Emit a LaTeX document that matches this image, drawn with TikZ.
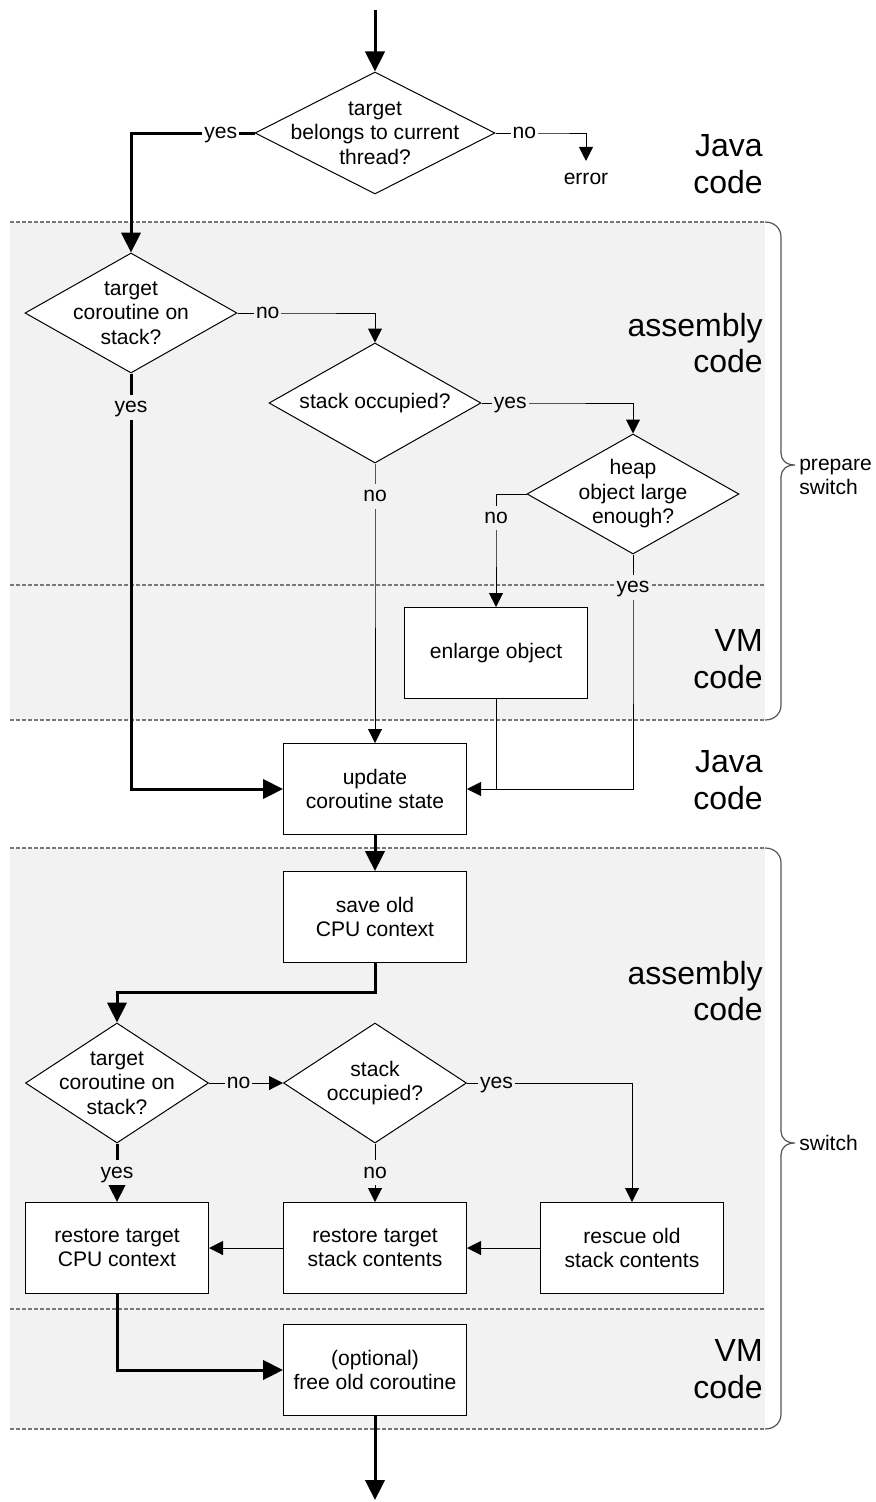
\documentclass[tikz,border=0pt]{standalone}
\usepackage{fontspec}
\setmainfont{Liberation Sans}
\usetikzlibrary{arrows.meta,shapes.geometric}
\definecolor{bandgray}{HTML}{F2F2F2}
\definecolor{dashgray}{HTML}{777777}
\definecolor{bracegray}{HTML}{555555}
\begin{document}
\begin{tikzpicture}[x=0.75pt,y=-0.75pt,
  sfont/.style={font=\fontsize{15.8pt}{18.4pt}\selectfont},
  bfont/.style={font=\fontsize{24pt}{27.5pt}\selectfont},
  box/.style={draw, rectangle, line width=0.75pt, fill=white, minimum width=137.25pt, minimum height=68.25pt, align=center, inner sep=0pt, sfont},
  dia/.style={draw, diamond, line width=0.75pt, fill=white, inner sep=0pt},
  dtext/.style={align=center, inner sep=0pt, sfont},
  lbl/.style={sfont, inner xsep=1.5pt, inner ysep=5pt, text depth=0pt},
  onw/.style={lbl, fill=white},
  ong/.style={lbl, fill=bandgray},
  thk/.style={line width=2.25pt, -{Triangle[length=15pt,width=14.5pt]}},
  thn/.style={line width=0.75pt, -{Triangle[length=10.5pt,width=10.5pt]}},
  thnn/.style={line width=0.75pt},
  band/.style={fill=bandgray, draw=none},
  sep/.style={draw=dashgray, line width=0.9pt, dash pattern=on 3pt off 1.5pt},
  brace/.style={draw=bracegray, line width=0.9pt},
  side/.style={bfont, align=right, anchor=east, inner sep=0pt},
  bracetext/.style={sfont, align=left, anchor=west, inner sep=0pt},
]
\useasboundingbox (0,0) rectangle (875,1502);

% bands
\fill[band] (10,222) rectangle (765,720);
\fill[band] (10,848) rectangle (765,1429);
\draw[sep] (10,222) -- (765,222);
\draw[sep] (10,585) -- (765,585);
\draw[sep] (10,720) -- (765,720);
\draw[sep] (10,848) -- (765,848);
\draw[sep] (10,1309) -- (765,1309);
\draw[sep] (10,1429) -- (765,1429);

% braces
\draw[brace] (765,222) .. controls (774,222) and (781,228) .. (781,237) -- (781,453)
  .. controls (781,460) and (786,465) .. (795,465)
  .. controls (786,465) and (781,470) .. (781,477) -- (781,705)
  .. controls (781,714) and (774,720) .. (765,720);
\draw[brace] (765,848) .. controls (774,848) and (781,854) .. (781,863) -- (781,1131)
  .. controls (781,1138) and (786,1143) .. (795,1143)
  .. controls (786,1143) and (781,1148) .. (781,1155) -- (781,1414)
  .. controls (781,1423) and (774,1429) .. (765,1429);

% side labels
\node[side] (j1) at (763,164) {Java\\code};
\node[side] (a1) at (763,343) {assembly\\code};
\node[side] (v1) at (763,659) {VM\\code};
\node[side] (j2) at (763,780) {Java\\code};
\node[side] (a2) at (763,991) {assembly\\code};
\node[side] (v2) at (763,1369) {VM\\code};
\node[bracetext] (ps) at (799,477) {prepare\\switch};
\node[bracetext] (sw) at (799,1143) {switch};

% nodes
\coordinate (start) at (375,10);
\coordinate (stop) at (375,1500);
\node[dia, minimum width=180pt, minimum height=91.5pt] (d1) at (375,133) {};
\node[dtext] (t1) at (d1) {target\\belongs to current\\thread?};
\node[sfont, inner sep=0pt] (err) at (586,179) {error};
\node[dia, minimum width=159pt, minimum height=90pt] (d2) at (131,313) {};
\node[dtext] (t2) at (d2) {target\\coroutine on\\stack?};
\node[dia, minimum width=159pt, minimum height=90pt] (d3) at (375,403) {};
\node[dtext] (t3) at (d3) {stack occupied?};
\node[dia, minimum width=159pt, minimum height=90pt] (d4) at (633,494) {};
\node[dtext] (t4) at (d4) {heap\\object large\\enough?};
\node[box] (enl) at (496,653) {enlarge object};
\node[box] (upd) at (375,789) {update\\coroutine state};
\node[box] (save) at (375,917) {save old\\CPU context};
\node[dia, minimum width=137.25pt, minimum height=90pt] (d5) at (117,1083) {};
\node[dtext] (t5) at (d5) {target\\coroutine on\\stack?};
\node[dia, minimum width=137.25pt, minimum height=90pt] (d6) at (375,1083) {};
\node[dtext] (t6) at (d6) {stack\\occupied?};
\node[box] (rcpu) at (117,1248) {restore target\\CPU context};
\node[box] (rstk) at (375,1248) {restore target\\stack contents};
\node[box] (res) at (632,1248) {rescue old\\stack contents};
\node[box] (free) at (375,1370) {(optional)\\free old coroutine};

% connectors
\draw[thk] (start) -- (d1.north);
\draw[thk] (d1.west) -- node[onw] {yes} (187,133) -| (d2.north);
\draw[thn] (d1.east) -- node[onw] {no} (553,133) -| ([yshift=9pt]err.north);
\draw[thn] (d2.east) -- node[ong] {no} (298,313) -| (d3.north);
\draw[thk] (d2.south) -- node[ong] {yes} (131,441) |- (upd.west);
\draw[thn] (d3.east) -- node[ong] {yes} (539,403) -| (d4.north);
\draw[thn] (d3.south) -- node[ong] {no} (375,529) -- (upd.north);
\draw[thn] (d4.west) -- (496,494) -- node[ong] {no} (496,542) -- (enl.north);
\draw[thnn] (enl.south) -- (enl.south |- upd.east);
\draw[thn] (d4.south) -- node[ong] {yes} (633,620) |- (upd.east);
\draw[thk] (upd.south) -- (save.north);
\draw[thk] (save.south) -- (375,992) -| (d5.north);
\draw[thn] (d5.east) -- node[ong] {no} (268,1083) -- (d6.west);
\draw[thn] (d6.east) -- node[ong] {yes} (526,1083) -| (res.north);
\draw[thk] (d5.south) -- node[ong] {yes} (rcpu.north);
\draw[thn] (d6.south) -- node[ong] {no} (rstk.north);
\draw[thn] (res.west) -- (rstk.east);
\draw[thn] (rstk.west) -- (rcpu.east);
\draw[thk] (rcpu.south) |- (free.west);
\draw[thk] (free.south) -- (stop);
\end{tikzpicture}
\end{document}
